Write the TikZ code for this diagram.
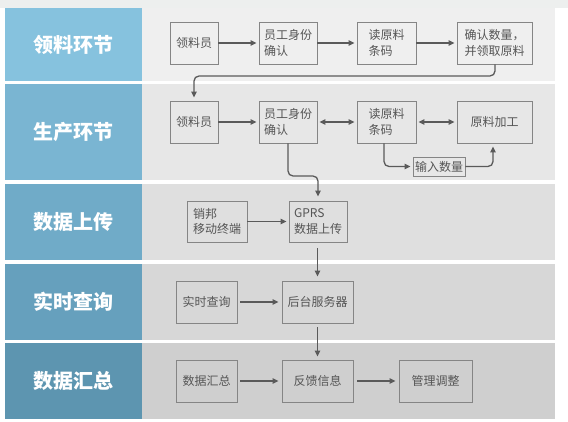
\documentclass[tikz,border=0pt]{standalone}
\usepackage{fontspec}
\newfontfamily\cjk{Noto Sans CJK SC}
\usetikzlibrary{arrows.meta}
\definecolor{lab1}{HTML}{86C2DE}
\definecolor{lab2}{HTML}{7AB5D2}
\definecolor{lab3}{HTML}{70ABC8}
\definecolor{lab4}{HTML}{66A0BD}
\definecolor{lab5}{HTML}{5D95B0}
\definecolor{bg1}{HTML}{EFEFEF}
\definecolor{bg2}{HTML}{E7E7E7}
\definecolor{bg3}{HTML}{DFDFDF}
\definecolor{bg4}{HTML}{D7D7D7}
\definecolor{bg5}{HTML}{CFCFCF}
\definecolor{topstrip}{HTML}{EDEFEE}
\definecolor{boxline}{HTML}{858585}
\definecolor{txt}{HTML}{555555}
\definecolor{arr}{HTML}{5A5A5A}
\tikzset{
  box/.style={draw=boxline, line width=0.9pt, inner sep=0pt, align=left,
    font=\cjk\fontsize{12}{15.5}\selectfont, text=txt},
  lab/.style={font=\cjk\bfseries\fontsize{20}{24}\selectfont, text=white},
  conn/.style={draw=arr, line width=1.3pt, -{Triangle[length=6pt,width=5.5pt]}, rounded corners=5pt},
  dconn/.style={draw=arr, line width=1.3pt, {Triangle[length=6pt,width=5.5pt]}-{Triangle[length=6pt,width=5.5pt]}}
}
\begin{document}
\begin{tikzpicture}[x=1pt,y=-1pt]
\useasboundingbox (0,0) rectangle (568,422);
\fill[white] (0,0) rectangle (568,422);
\fill[topstrip] (0,0) rectangle (568,8);
% bands
\fill[lab1] (5,8) rectangle (142,81);   \fill[bg1] (142,8) rectangle (555,81);
\fill[lab2] (5,84) rectangle (142,180); \fill[bg2] (142,84) rectangle (555,180);
\fill[lab3] (5,184) rectangle (142,260);\fill[bg3] (142,184) rectangle (555,260);
\fill[lab4] (5,264) rectangle (142,340);\fill[bg4] (142,264) rectangle (555,340);
\fill[lab5] (5,343) rectangle (142,419);\fill[bg5] (142,343) rectangle (555,419);
% labels
\node[lab] (L1) at (74,44.5) {领料环节};
\node[lab] (L2) at (74,132) {生产环节};
\node[lab] (L3) at (74,222) {数据上传};
\node[lab] (L4) at (74,302) {实时查询};
\node[lab] (L5) at (74,381) {数据汇总};
% band 1
\node[box, minimum width=48pt, minimum height=42pt] (a1) at (194,43) {领料员};
\node[box, minimum width=58pt, minimum height=42pt] (a2) at (288,43) {员工身份\\确认};
\node[box, minimum width=59pt, minimum height=42pt] (a3) at (386.5,43) {读原料\\条码};
\node[box, minimum width=75pt, minimum height=42pt] (a4) at (494.5,43) {确认数量，\\并领取原料};
% band 2
\node[box, minimum width=48pt, minimum height=42pt] (b1) at (194,122) {领料员};
\node[box, minimum width=58pt, minimum height=42pt] (b2) at (288,122) {员工身份\\确认};
\node[box, minimum width=59pt, minimum height=42pt] (b3) at (386.5,122) {读原料\\条码};
\node[box, minimum width=75pt, minimum height=42pt] (b4) at (494.5,122) {原料加工};
\node[box, minimum width=52pt, minimum height=19pt] (b5) at (439,166.5) {输入数量};
% band 3
\node[box, minimum width=60pt, minimum height=41pt] (c1) at (217,221.5) {销邦\\移动终端};
\node[box, minimum width=58pt, minimum height=41pt] (c2) at (318,221.5) {GPRS\\数据上传};
% band 4
\node[box, minimum width=61pt, minimum height=42pt] (d1) at (206.5,302) {实时查询};
\node[box, minimum width=71pt, minimum height=42pt] (d2) at (317.5,302) {后台服务器};
% band 5
\node[box, minimum width=61pt, minimum height=42pt] (e1) at (206.5,381) {数据汇总};
\node[box, minimum width=71pt, minimum height=42pt] (e2) at (317.5,381) {反馈信息};
\node[box, minimum width=73pt, minimum height=42pt] (e3) at (435.5,381) {管理调整};
% coordinates for routed connectors
\coordinate (k1) at (495,76);
\coordinate (k2) at (194,76);
\coordinate (k3) at (288,176);
\coordinate (k4) at (318,176);
\coordinate (k5) at (384,166.5);
\coordinate (k6) at (493,166.5);
% connectors band 1
\draw[conn, shorten >=2pt] (a1.east) -- (a2.west);
\draw[conn, shorten >=2pt] (a2.east) -- (a3.west);
\draw[conn, shorten >=2pt] (a3.east) -- (a4.west);
\draw[conn, shorten >=3pt] (a4.south -| k1) -- (k1) -- (k2) -- (b1.north);
% band 2
\draw[conn, shorten >=2pt] (b1.east) -- (b2.west);
\draw[dconn, shorten >=2pt, shorten <=2pt] (b2.east) -- (b3.west);
\draw[dconn, shorten >=2pt, shorten <=2pt] (b3.east) -- (b4.west);
\draw[conn, shorten >=2pt] (b3.south -| k5) -- (k5) -- (b5.west);
\draw[conn, shorten >=3pt] (b5.east) -- (k6) -- (b4.south -| k6);
\draw[conn, shorten >=4pt] (b2.south) -- (k3) -- (k4) -- (c2.north);
% band 3
\draw[conn, shorten >=2pt] (c1.east) -- (c2.west);
\draw[conn, shorten <=6pt, shorten >=4pt] (c2.south -| d2) -- (d2.north);
% band 4
\draw[conn, shorten <=3pt, shorten >=3pt] (d1.east) -- (d2.west);
\draw[conn, shorten <=4pt, shorten >=3pt] (d2.south) -- (e2.north);
% band 5
\draw[conn, shorten <=3pt, shorten >=3pt] (e1.east) -- (e2.west);
\draw[conn, shorten <=4pt, shorten >=3pt] (e2.east) -- (e3.west);
\end{tikzpicture}
\end{document}
